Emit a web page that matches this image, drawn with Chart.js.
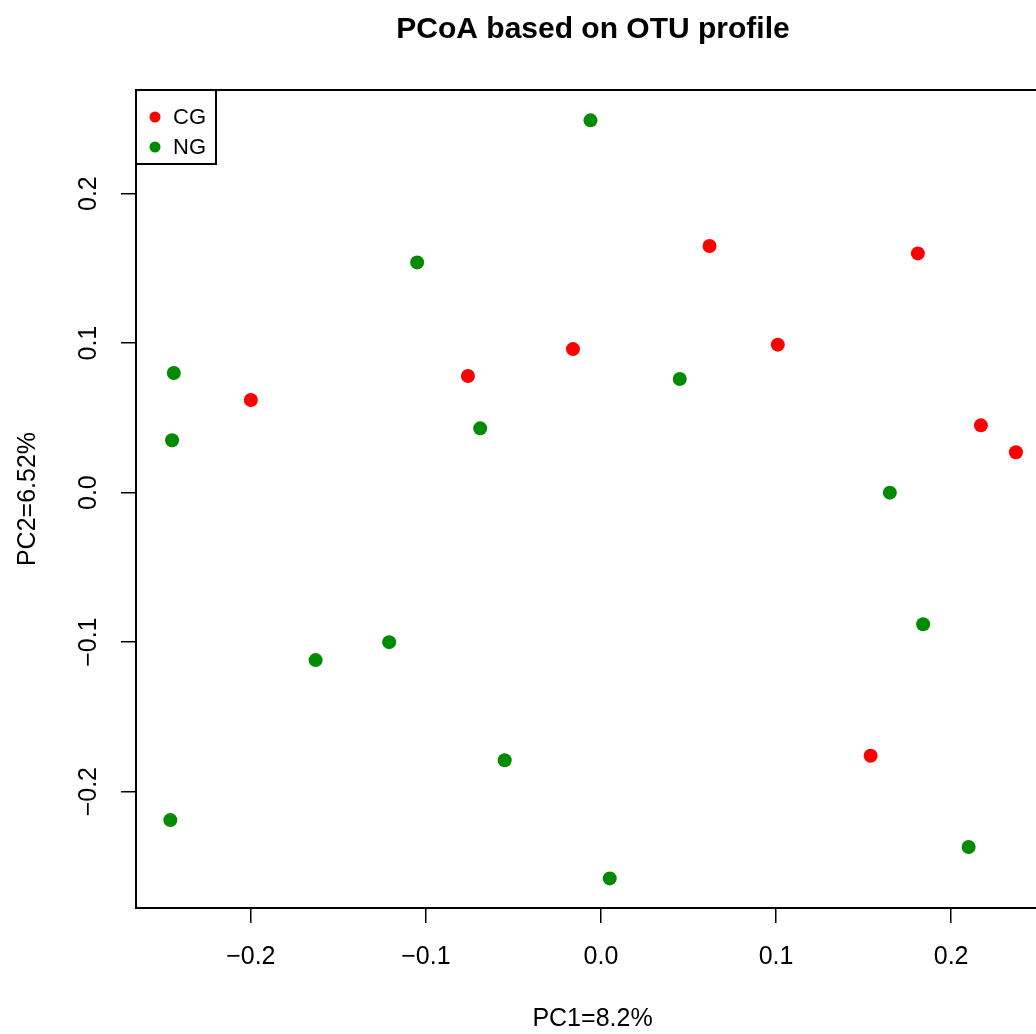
<!DOCTYPE html>
<html>
<head>
<meta charset="utf-8">
<script src="https://cdn.jsdelivr.net/npm/chart.js@4.4.1/dist/chart.umd.min.js"></script>
<style>
  html, body { margin: 0; padding: 0; background: #fff; overflow: hidden; }
  #wrap { width: 1186px; height: 1034px; }
</style>
</head>
<body>
<div id="wrap"><canvas id="pcoa" width="1186" height="1034"></canvas></div>
<script>
// PCoA coordinates
const cg_x = [-0.200, -0.076, -0.016, 0.062, 0.101, 0.181, 0.217, 0.237, 0.154];
const cg_y = [0.062, 0.078, 0.096, 0.165, 0.099, 0.160, 0.045, 0.027, -0.176];
const ng_x = [-0.006, -0.105, -0.244, -0.245, -0.069, 0.045, 0.165, 0.184, -0.121, -0.163, -0.055, -0.246, 0.005, 0.210];
const ng_y = [0.249, 0.154, 0.080, 0.035, 0.043, 0.076, 0.000, -0.088, -0.100, -0.112, -0.179, -0.219, -0.258, -0.237];

const groups = ['CG', 'NG'];
const group_colors = ['#FF0000', '#008B00'];
const x_ticks = [-0.2, -0.1, 0.0, 0.1, 0.2];
const y_ticks = [-0.2, -0.1, 0.0, 0.1, 0.2];
const x_range = [-0.2656, 0.2559];
const y_range = [-0.2778, 0.2693];

const FONT = "'Liberation Sans', Arial, Helvetica, sans-serif";

function toPoints(xs, ys)
{
    return xs.map((x, i) => ({ 'x': x, 'y': ys[i] }));
}

function fmt(v)
{
    if (Math.abs(v) < 1e-9) return '0.0';
    return (v < 0 ? '\u2212' : '') + Math.abs(v).toFixed(1);
}

// box round the plot + legend in the top left corner, like R's legend("topleft")
const boxPlugin = {
    id: 'box',
    afterDraw(chart) {
        const ctx = chart.ctx;
        const a = chart.chartArea;
        ctx.save();
        ctx.strokeStyle = '#000';
        ctx.lineWidth = 2;
        ctx.strokeRect(a.left, a.top, a.right - a.left, a.bottom - a.top);

        //legend
        ctx.strokeRect(a.left, a.top, 80, 74);
        ctx.font = '22px ' + FONT;
        ctx.textBaseline = 'middle';
        ctx.textAlign = 'left';
        chart.data.datasets.forEach((ds, i) => {
            const cy = a.top + 27 + i * 30;
            ctx.fillStyle = ds.backgroundColor;
            ctx.beginPath();
            ctx.arc(a.left + 19, cy, 5.5, 0, Math.PI * 2);
            ctx.fill();
            ctx.fillStyle = '#000';
            ctx.fillText(ds.label, a.left + 37, cy + 1);
        });
        ctx.restore();
    }
};

const datasets = [
    { 'label': groups[0], 'data': toPoints(cg_x, cg_y), 'backgroundColor': group_colors[0], 'borderColor': group_colors[0] },
    { 'label': groups[1], 'data': toPoints(ng_x, ng_y), 'backgroundColor': group_colors[1], 'borderColor': group_colors[1] }
];

const tickGrid = { display: true, drawOnChartArea: false, drawTicks: true, tickLength: 15, color: '#000', lineWidth: 1.5 };

new Chart(document.getElementById('pcoa').getContext('2d'), {
    'type': 'scatter',
    'data': { 'datasets': datasets },
    'plugins': [boxPlugin],
    'options': {
        responsive: false,
        animation: false,
        devicePixelRatio: 1,
        layout: { padding: 0 },
        elements: { point: { radius: 7, borderWidth: 0, hoverRadius: 7 } },
        plugins: {
            legend: { display: false },
            tooltip: { enabled: false },
            title: {
                display: true,
                text: 'PCoA based on OTU profile',
                color: '#000',
                font: { family: FONT, size: 30, weight: 'bold', lineHeight: 1.2 },
                padding: { top: 12, bottom: 42 }
            }
        },
        scales: {
            x: {
                type: 'linear',
                min: x_range[0],
                max: x_range[1],
                border: { display: false },
                grid: tickGrid,
                afterBuildTicks: (scale) => { scale.ticks = x_ticks.map(v => ({ value: v })); },
                afterFit: (scale) => { scale.height = 126; },
                ticks: { color: '#000', padding: 19, maxRotation: 0, autoSkip: false, font: { family: FONT, size: 25 }, callback: fmt },
                title: { display: true, text: 'PC1=8.2%', color: '#000', font: { family: FONT, size: 25 }, padding: { top: 0, bottom: 0 } }
            },
            y: {
                type: 'linear',
                min: y_range[0],
                max: y_range[1],
                border: { display: false },
                grid: tickGrid,
                afterBuildTicks: (scale) => { scale.ticks = y_ticks.map(v => ({ value: v })); },
                afterFit: (scale) => { scale.width = 136; },
                ticks: { color: '#000', padding: 7, minRotation: 90, maxRotation: 90, crossAlign: 'center', autoSkip: false, font: { family: FONT, size: 25 }, callback: fmt },
                title: { display: true, text: 'PC2=6.52%', color: '#000', font: { family: FONT, size: 25 }, padding: { top: 13, bottom: 0 } }
            },
            // empty right margin, so the plot (and the title over it) sits as in R
            yRight: {
                type: 'linear',
                position: 'right',
                min: y_range[0],
                max: y_range[1],
                border: { display: false },
                grid: { display: false },
                ticks: { display: false },
                afterFit: (scale) => { scale.width = 137; }
            }
        }
    }
});
</script>
</body>
</html>
